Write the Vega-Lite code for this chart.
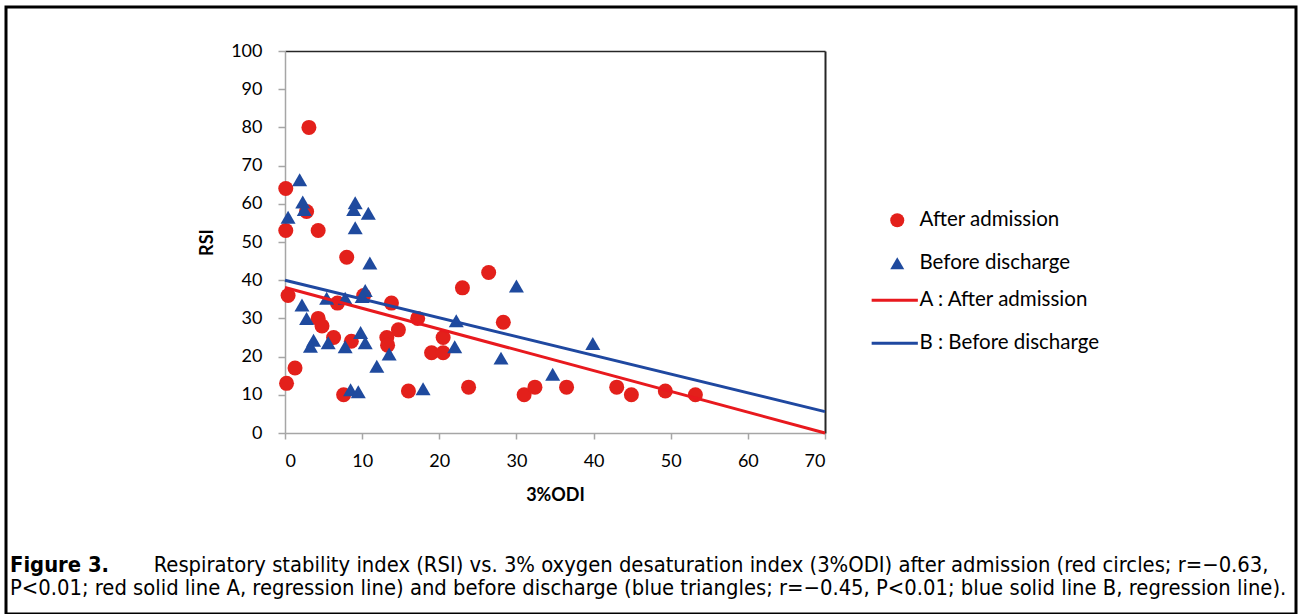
{
  "$schema": "https://vega.github.io/schema/vega-lite/v6.json",
  "width": 1290,
  "height": 607,
  "autosize": {"type": "none"},
  "padding": {"left": 6, "top": 7, "right": 2, "bottom": 0},
  "background": "white",
  "config": {
    "view": {"stroke": "#000000", "strokeWidth": 3, "fill": "white"},
    "font": "Lato"
  },
  "title": {
    "text": "Figure 3.",
    "subtitle": [
      "\u2800\u2800\u2800\u2800\u2800\u2800\u2800\u2800\u2800\u2800Respiratory stability index (RSI) vs. 3% oxygen desaturation index (3%ODI) after admission (red circles; r=\u22120.63,",
      "P<0.01; red solid line A, regression line) and before discharge (blue triangles; r=\u22120.45, P<0.01; blue solid line B, regression line)."
    ],
    "orient": "bottom",
    "anchor": "start",
    "frame": "group",
    "offset": -59,
    "dx": 4,
    "font": "DejaVu Sans Condensed",
    "fontWeight": "bold",
    "fontSize": 21.8,
    "color": "#000000",
    "subtitleFont": "DejaVu Sans Condensed",
    "subtitleFontSize": 21.8,
    "subtitleColor": "#000000",
    "subtitlePadding": -21.8,
    "subtitleLineHeight": 23
  },
  "datasets": {
    "points": [
      {"x": 3.1, "y": 80, "series": "After admission"},
      {"x": 0.1, "y": 64, "series": "After admission"},
      {"x": 0.1, "y": 53, "series": "After admission"},
      {"x": 2.8, "y": 58, "series": "After admission"},
      {"x": 4.3, "y": 53, "series": "After admission"},
      {"x": 0.4, "y": 36, "series": "After admission"},
      {"x": 1.3, "y": 17, "series": "After admission"},
      {"x": 0.2, "y": 13, "series": "After admission"},
      {"x": 8.0, "y": 46, "series": "After admission"},
      {"x": 6.8, "y": 34, "series": "After admission"},
      {"x": 4.3, "y": 30, "series": "After admission"},
      {"x": 4.8, "y": 28, "series": "After admission"},
      {"x": 6.3, "y": 25, "series": "After admission"},
      {"x": 8.6, "y": 24, "series": "After admission"},
      {"x": 7.6, "y": 10, "series": "After admission"},
      {"x": 10.2, "y": 36, "series": "After admission"},
      {"x": 13.8, "y": 34, "series": "After admission"},
      {"x": 13.2, "y": 25, "series": "After admission"},
      {"x": 13.3, "y": 23, "series": "After admission"},
      {"x": 14.7, "y": 27, "series": "After admission"},
      {"x": 17.2, "y": 30, "series": "After admission"},
      {"x": 16.0, "y": 11, "series": "After admission"},
      {"x": 19.0, "y": 21, "series": "After admission"},
      {"x": 20.5, "y": 25, "series": "After admission"},
      {"x": 20.5, "y": 21, "series": "After admission"},
      {"x": 23.0, "y": 38, "series": "After admission"},
      {"x": 23.8, "y": 12, "series": "After admission"},
      {"x": 26.4, "y": 42, "series": "After admission"},
      {"x": 28.3, "y": 29, "series": "After admission"},
      {"x": 31.0, "y": 10, "series": "After admission"},
      {"x": 32.4, "y": 12, "series": "After admission"},
      {"x": 36.5, "y": 12, "series": "After admission"},
      {"x": 43.0, "y": 12, "series": "After admission"},
      {"x": 44.9, "y": 10, "series": "After admission"},
      {"x": 49.3, "y": 11, "series": "After admission"},
      {"x": 53.2, "y": 10, "series": "After admission"},
      {"x": 1.9, "y": 66.3, "series": "Before discharge"},
      {"x": 2.3, "y": 60.5, "series": "Before discharge"},
      {"x": 2.5, "y": 58.5, "series": "Before discharge"},
      {"x": 0.4, "y": 56.5, "series": "Before discharge"},
      {"x": 9.1, "y": 60.3, "series": "Before discharge"},
      {"x": 8.9, "y": 58.5, "series": "Before discharge"},
      {"x": 10.8, "y": 57.5, "series": "Before discharge"},
      {"x": 9.1, "y": 53.7, "series": "Before discharge"},
      {"x": 11.0, "y": 44.5, "series": "Before discharge"},
      {"x": 2.2, "y": 33.5, "series": "Before discharge"},
      {"x": 2.8, "y": 30.0, "series": "Before discharge"},
      {"x": 3.7, "y": 24.3, "series": "Before discharge"},
      {"x": 3.3, "y": 22.7, "series": "Before discharge"},
      {"x": 5.6, "y": 23.6, "series": "Before discharge"},
      {"x": 7.8, "y": 22.6, "series": "Before discharge"},
      {"x": 9.8, "y": 26.3, "series": "Before discharge"},
      {"x": 10.4, "y": 23.6, "series": "Before discharge"},
      {"x": 11.9, "y": 17.5, "series": "Before discharge"},
      {"x": 13.5, "y": 20.7, "series": "Before discharge"},
      {"x": 5.4, "y": 35.3, "series": "Before discharge"},
      {"x": 7.8, "y": 35.3, "series": "Before discharge"},
      {"x": 10.4, "y": 37.3, "series": "Before discharge"},
      {"x": 10.0, "y": 35.7, "series": "Before discharge"},
      {"x": 8.5, "y": 11.3, "series": "Before discharge"},
      {"x": 9.5, "y": 10.8, "series": "Before discharge"},
      {"x": 17.9, "y": 11.6, "series": "Before discharge"},
      {"x": 22.2, "y": 29.4, "series": "Before discharge"},
      {"x": 22.0, "y": 22.6, "series": "Before discharge"},
      {"x": 28.0, "y": 19.6, "series": "Before discharge"},
      {"x": 30.0, "y": 38.5, "series": "Before discharge"},
      {"x": 34.7, "y": 15.4, "series": "Before discharge"},
      {"x": 39.9, "y": 23.4, "series": "Before discharge"}
    ],
    "lines": [
      {"x": 0, "y": 38.1, "line": "A : After admission"},
      {"x": 70, "y": 0, "line": "A : After admission"},
      {"x": 0, "y": 40.0, "line": "B : Before discharge"},
      {"x": 70, "y": 5.6, "line": "B : Before discharge"}
    ]
  },
  "layer": [
    {
      "data": {"name": "points"},
      "mark": {"type": "point", "filled": true, "size": 225, "opacity": 1, "strokeWidth": 0},
      "encoding": {
        "x": {
          "field": "x", "type": "quantitative",
          "scale": {"domain": [0, 70], "range": [279, 819], "nice": false, "zero": false},
          "axis": {
            "orient": "bottom", "offset": -181, "title": "3%ODI",
            "values": [0, 10, 20, 30, 40, 50, 60, 70],
            "grid": false, "domainColor": "#A6A6A6", "domainWidth": 1.5,
            "tickColor": "#A6A6A6", "tickSize": 6, "tickWidth": 1.5,
            "labelFont": "Lato", "labelFontSize": 18, "labelColor": "#000000", "labelPadding": 13,
            "titleFont": "Lato", "titleFontSize": 18, "titleFontWeight": "bold", "titleColor": "#000000", "titlePadding": 16
          }
        },
        "y": {
          "field": "y", "type": "quantitative",
          "scale": {"domain": [0, 100], "range": [426, 44], "nice": false, "zero": false},
          "axis": {
            "orient": "left", "offset": -279, "title": "RSI",
            "values": [0, 10, 20, 30, 40, 50, 60, 70, 80, 90, 100],
            "grid": false, "domainColor": "#A6A6A6", "domainWidth": 1.5,
            "tickColor": "#A6A6A6", "tickSize": 7, "tickWidth": 1.5,
            "labelFont": "Lato", "labelFontSize": 18, "labelColor": "#000000", "labelPadding": 16,
            "titleFont": "Lato", "titleFontSize": 18, "titleFontWeight": "bold", "titleColor": "#000000", "titlePadding": 14
          }
        },
        "fill": {
          "field": "series", "type": "nominal",
          "scale": {"domain": ["After admission", "Before discharge"], "range": ["#E3201B", "#1F4A9E"]},
          "legend": {
            "title": null, "orient": "none", "legendX": 881, "legendY": 203,
            "padding": 0, "rowPadding": 22, "symbolSize": 196, "symbolStrokeWidth": 0,
            "labelFont": "Lato", "labelFontSize": 20.5, "labelColor": "#000000", "labelOffset": 12, "labelLimit": 400
          }
        },
        "shape": {
          "field": "series", "type": "nominal",
          "scale": {"domain": ["After admission", "Before discharge"], "range": ["circle", "triangle-up"]},
          "legend": {
            "title": null, "orient": "none", "legendX": 881, "legendY": 203,
            "padding": 0, "rowPadding": 22, "symbolSize": 196, "symbolStrokeWidth": 0,
            "labelFont": "Lato", "labelFontSize": 20.5, "labelColor": "#000000", "labelOffset": 12, "labelLimit": 400
          }
        }
      }
    },
    {
      "data": {"name": "lines"},
      "mark": {"type": "line", "strokeWidth": 3},
      "encoding": {
        "x": {
          "field": "x", "type": "quantitative",
          "scale": {"domain": [0, 70], "range": [279, 819], "nice": false, "zero": false},
          "axis": {
            "orient": "top", "offset": -44, "title": null, "labels": false, "ticks": false,
            "grid": false, "domainColor": "#262626", "domainWidth": 1.5
          }
        },
        "y": {
          "field": "y", "type": "quantitative",
          "scale": {"domain": [0, 100], "range": [426, 44], "nice": false, "zero": false},
          "axis": {
            "orient": "right", "offset": -471, "title": null, "labels": false, "ticks": false,
            "grid": false, "domainColor": "#262626", "domainWidth": 2
          }
        },
        "stroke": {
          "field": "line", "type": "nominal",
          "scale": {"domain": ["A : After admission", "B : Before discharge"], "range": ["#E8191E", "#1F48A0"]},
          "legend": {
            "title": null, "orient": "none", "legendX": 878.5, "legendY": 283,
            "padding": 0, "rowPadding": 22, "symbolSize": 196, "symbolType": "M-3.3,0H3.3",
            "symbolStrokeWidth": 3,
            "labelFont": "Lato", "labelFontSize": 20.5, "labelColor": "#000000", "labelOffset": 14.5, "labelLimit": 400
          }
        }
      }
    }
  ],
  "resolve": {"axis": {"x": "independent", "y": "independent"}}
}
